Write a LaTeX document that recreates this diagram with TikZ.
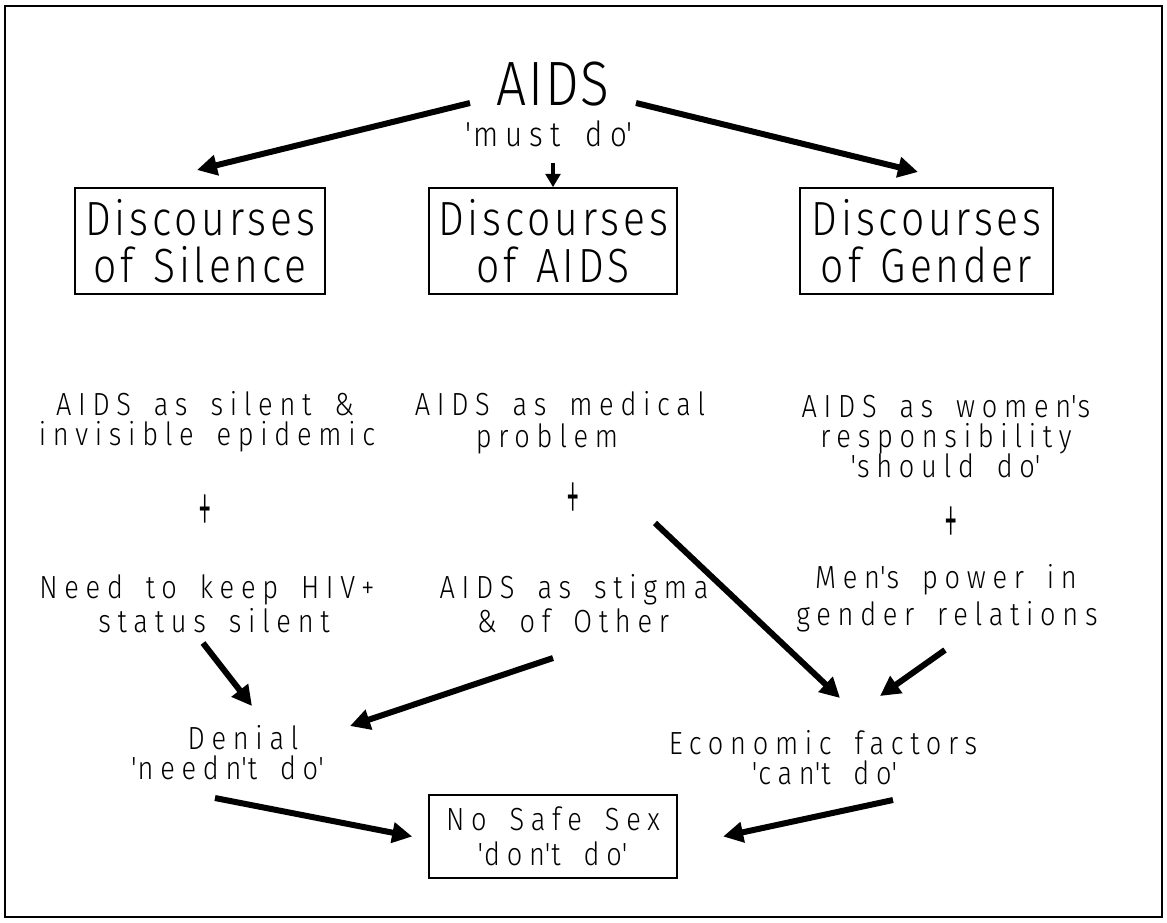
\documentclass[tikz,border=0pt]{standalone}
\usepackage{fontspec}
\usepackage{graphicx}
\usetikzlibrary{arrows.meta}
\newfontfamily\bodyf{Fira Sans Light}[FakeStretch=0.85,LetterSpace=21,WordSpace=1.6]
\newfontfamily\boxf{Fira Sans Light}[FakeStretch=0.85,LetterSpace=8,WordSpace=1.3]
\newfontfamily\titlef{Fira Sans Light}[FakeStretch=0.85,LetterSpace=3]
\newcommand\tq{\textquotesingle}
\newcommand\plussign{\scalebox{0.4}[1]{\fontsize{60}{60}\selectfont +}}
\tikzset{
  frame/.style={line width=1.5pt},
  txt/.style={inner sep=0pt, anchor=base, font=\bodyf\fontsize{24}{24}\selectfont},
  plusnode/.style={inner sep=0pt, anchor=center, font=\bodyf},
  dbox/.style={draw, line width=1.2pt, inner sep=0pt, align=center,
    font=\boxf\fontsize{36}{35}\selectfont, minimum height=79.5pt},
  sbox/.style={draw, line width=1.2pt, inner sep=0pt, align=center,
    font=\bodyf\fontsize{24}{26}\selectfont, minimum height=62pt, minimum width=186pt},
  arr/.style={line width=4.5pt, -{Triangle[length=15pt,width=15pt]}},
  sarr/.style={line width=2.5pt, -{Triangle[length=10pt,width=11pt]}}
}
\begin{document}
\begin{tikzpicture}[x=0.75pt,y=-0.75pt]
\useasboundingbox (0,0) rectangle (1167,922);
\draw[frame] (5,6) rectangle (1162,917);

% title
\node[txt, font=\titlef\fontsize{47}{47}\selectfont] (aids) at (553,105) {AIDS};
\node[txt, font=\bodyf\fontsize{26}{26}\selectfont] (must) at (550,146) {\tq must do\tq};

% discourse boxes
\node[dbox, minimum width=187.5pt] (sil) at (200,241) {Discourses\\of Silence};
\node[dbox, minimum width=186pt] (dai) at (553,241) {Discourses\\of AIDS};
\node[dbox, minimum width=190pt] (gen) at (926.5,241) {Discourses\\of Gender};

% left column
\node[txt] (l1) at (205,415) {AIDS as silent \&};
\node[txt] (l2) at (207,445) {invisible epidemic};
\node[plusnode] (lp) at (205,515) {\plussign};
\node[txt] (l3) at (207,598) {Need to keep HIV+};
\node[txt] (l4) at (214,632) {status silent};

% middle column
\node[txt] (m1) at (560,415) {AIDS as medical};
\node[txt] (m2) at (547,447) {problem};
\node[plusnode] (mp) at (573,503) {\plussign};
\node[txt] (m3) at (574,598) {AIDS as stigma};
\node[txt] (m4) at (573,632) {\& of Other};

% right column
\node[txt] (r1) at (946,417) {AIDS as women\tq s};
\node[txt] (r2) at (946,447) {responsibility};
\node[txt] (r3) at (946,477) {\tq should do\tq};
\node[plusnode] (rp) at (951,527) {\plussign};
\node[txt] (r4) at (946,588) {Men\tq s power in};
\node[txt] (r5) at (947,625) {gender relations};

% outcomes
\node[txt] (den) at (243,749) {Denial};
\node[txt] (den2) at (228,779) {\tq needn\tq t do\tq};
\node[txt] (eco) at (823,754) {Economic factors};
\node[txt] (eco2) at (825,784) {\tq can\tq t do\tq};

\node[sbox] (nss) at (553,836.5) {No Safe Sex\\\tq don\tq t do\tq};

% connector end points
\coordinate (a1s) at (470,103); \coordinate (a1e) at (197,170);
\coordinate (a2s) at (553,163);
\coordinate (a3s) at (636,103); \coordinate (a3e) at (918,172);
\coordinate (a4s) at (203,643); \coordinate (a4e) at (252,706);
\coordinate (a5s) at (553,658); \coordinate (a5e) at (350,726);
\coordinate (a6s) at (655,523); \coordinate (a6e) at (840,698);
\coordinate (a7s) at (945,650); \coordinate (a7e) at (880,696);
\coordinate (a8s) at (215,798); \coordinate (a9s) at (893,800);

\draw[arr] (a1s) -- (a1e);
\draw[sarr] (a2s) -- (dai.north);
\draw[arr] (a3s) -- (a3e);
\draw[arr] (a4s) -- (a4e);
\draw[arr] (a5s) -- (a5e);
\draw[arr] (a6s) -- (a6e);
\draw[arr] (a7s) -- (a7e);
\draw[arr] (a8s) -- ([xshift=-12pt]nss.west);
\draw[arr] (a9s) -- ([xshift=34pt]nss.east);
\end{tikzpicture}
\end{document}
